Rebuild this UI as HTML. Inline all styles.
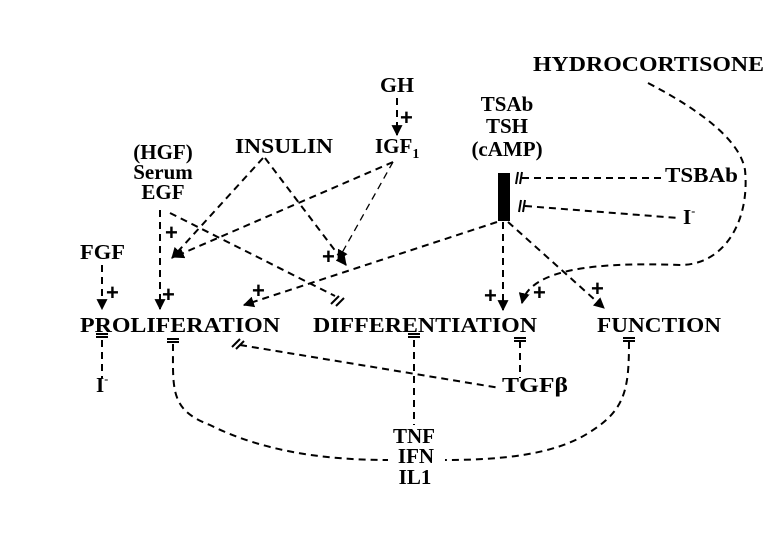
<!DOCTYPE html>
<html><head><meta charset="utf-8"><style>
html,body{margin:0;padding:0;background:#fff;width:780px;height:540px;overflow:hidden}
svg{display:block}
text{font-family:"Liberation Serif",serif;font-weight:bold;fill:#000}
</style></head><body>
<svg width="780" height="540" viewBox="0 0 780 540" xmlns="http://www.w3.org/2000/svg">
<defs>
<marker id="a" viewBox="0 0 10 10" refX="9" refY="5" markerWidth="11" markerHeight="11" markerUnits="userSpaceOnUse" orient="auto"><path d="M0,0 L10,5 L0,10 z" fill="#000"/></marker>
</defs>
<g font-size="21">
<text x="533" y="71" textLength="231" lengthAdjust="spacingAndGlyphs">HYDROCORTISONE</text>
<text x="397" y="92" text-anchor="middle" textLength="34" lengthAdjust="spacingAndGlyphs">GH</text>
<text x="375" y="153">IGF<tspan font-size="14" dy="5">1</tspan></text>
<text x="235" y="153" textLength="98" lengthAdjust="spacingAndGlyphs">INSULIN</text>
<text x="163" y="159" text-anchor="middle">(HGF)</text>
<text x="163" y="179" text-anchor="middle">Serum</text>
<text x="163" y="199" text-anchor="middle">EGF</text>
<text x="80" y="259" textLength="45" lengthAdjust="spacingAndGlyphs">FGF</text>
<text x="507" y="111" text-anchor="middle">TSAb</text>
<text x="507" y="133" text-anchor="middle">TSH</text>
<text x="507" y="156" text-anchor="middle">(cAMP)</text>
<text x="665" y="182" textLength="73" lengthAdjust="spacingAndGlyphs">TSBAb</text>
<text x="683" y="224">I<tspan font-size="12" dy="-9">-</tspan></text>
<text x="80" y="332" textLength="200" lengthAdjust="spacingAndGlyphs">PROLIFERATION</text>
<text x="313" y="332" textLength="224" lengthAdjust="spacingAndGlyphs">DIFFERENTIATION</text>
<text x="597" y="332" textLength="124" lengthAdjust="spacingAndGlyphs">FUNCTION</text>
<text x="96" y="392">I<tspan font-size="12" dy="-9">-</tspan></text>
<text x="502" y="392" textLength="66" lengthAdjust="spacingAndGlyphs">TGFβ</text>
<text x="414" y="443" text-anchor="middle">TNF</text>
<text x="416" y="463" text-anchor="middle">IFN</text>
<text x="415" y="484" text-anchor="middle">IL1</text>
</g>
<g font-size="22" font-family="Liberation Sans">
<text x="400" y="125" style="font-family:'Liberation Sans',sans-serif">+</text>
<text x="106" y="300" style="font-family:'Liberation Sans',sans-serif">+</text>
<text x="162" y="302" style="font-family:'Liberation Sans',sans-serif">+</text>
<text x="165" y="240" style="font-family:'Liberation Sans',sans-serif">+</text>
<text x="322" y="264" style="font-family:'Liberation Sans',sans-serif">+</text>
<text x="252" y="298" style="font-family:'Liberation Sans',sans-serif">+</text>
<text x="484" y="303" style="font-family:'Liberation Sans',sans-serif">+</text>
<text x="533" y="300" style="font-family:'Liberation Sans',sans-serif">+</text>
<text x="591" y="296" style="font-family:'Liberation Sans',sans-serif">+</text>
</g>
<rect x="498" y="173" width="12" height="48" fill="#000"/>
<g fill="none" stroke="#000" stroke-width="2" stroke-dasharray="7,5">
<line x1="397" y1="98" x2="397" y2="135" marker-end="url(#a)"/>
<line x1="102" y1="265" x2="102" y2="309" marker-end="url(#a)"/>
<line x1="160" y1="210" x2="160" y2="309" marker-end="url(#a)"/>
<line x1="263" y1="158" x2="172" y2="258" marker-end="url(#a)"/>
<line x1="265" y1="158" x2="346" y2="265" marker-end="url(#a)"/>
<line x1="393" y1="162" x2="174" y2="257" marker-end="url(#a)"/>
<line x1="393" y1="162" x2="338" y2="260" stroke-width="1.3" marker-end="url(#a)"/>
<line x1="170" y1="213" x2="335" y2="296"/>
<line x1="497" y1="222" x2="244" y2="305" marker-end="url(#a)"/>
<line x1="503" y1="222" x2="503" y2="310" marker-end="url(#a)"/>
<line x1="508" y1="222" x2="604" y2="308" marker-end="url(#a)"/>
<path d="M648,83 C700,110 740,140 745,170 C750,220 725,265 680,265 C600,262 530,268 522,303" marker-end="url(#a)"/>
<line x1="522" y1="178" x2="663" y2="178"/>
<line x1="525" y1="206" x2="678" y2="218"/>
<line x1="102" y1="340" x2="102" y2="378"/>
<path d="M173,344 C173,390 170,410 210,425 C260,450 320,460 388,460"/>
<line x1="240" y1="345" x2="500" y2="388"/>
<line x1="414" y1="340" x2="414" y2="425"/>
<line x1="520" y1="341" x2="520" y2="378"/>
<path d="M629,342 C629,390 625,410 590,432 C555,455 500,460 445,460"/>
</g>
<g stroke="#000" stroke-width="2" fill="none">
<path d="M96,334 h12 M96,337 h12"/>
<path d="M167,339 h12 M167,342 h12"/>
<path d="M408,334 h12 M408,337 h12"/>
<path d="M514,338 h12 M514,341 h12"/>
<path d="M623,338 h12 M623,341 h12"/>
<path d="M331,304 l8,-8 M336,306 l8,-8"/>
<path d="M232,347 l8,-8 M236,349 l8,-8"/>
<path d="M518,172 l-2,12 M522,172 l-2,12"/>
<path d="M521,200 l-2,12 M525,200 l-2,12"/>
</g>
</svg>
</body></html>
